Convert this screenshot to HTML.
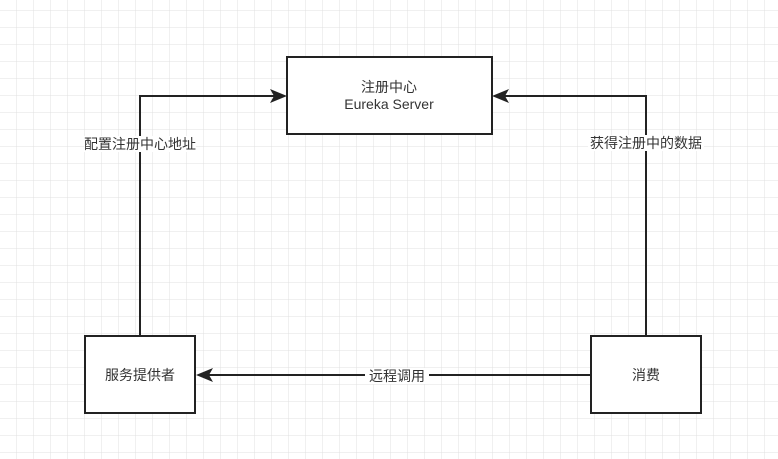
<!DOCTYPE html>
<html><head><meta charset="utf-8"><style>
body{margin:0;width:778px;height:459px;overflow:hidden;background:#fff;}
svg{display:block}
text{font-family:"Liberation Sans","Noto Sans CJK SC",sans-serif;font-size:14px;fill:#333;}
</style></head><body>
<svg width="778" height="459" xmlns="http://www.w3.org/2000/svg">
<defs>
<pattern id="g" width="17" height="17" patternUnits="userSpaceOnUse" x="0" y="11">
<path d="M17 0V17M0 17H17" fill="none" stroke="#e0e0e0" stroke-width="1"/>
</pattern>
</defs>
<rect width="778" height="459" fill="url(#g)"/>
<g stroke="#222" stroke-width="2" fill="none">
<rect x="287" y="57" width="205" height="77" fill="#fff"/>
<rect x="85" y="336" width="110" height="77" fill="#fff"/>
<rect x="591" y="336" width="110" height="77" fill="#fff"/>
<path d="M140 336V96H275"/>
<path d="M646 336V96H504"/>
<path d="M591 375H207"/>
</g>
<g fill="#222">
<path d="M287 96L270 89L274 96L270 103Z"/>
<path d="M492 96L509 89L505 96L509 103Z"/>
<path d="M196 375L213 368L209 375L213 382Z"/>
</g>
<rect x="84" y="136" width="112" height="16" fill="#fff"/>
<rect x="588" y="135" width="116" height="16" fill="#fff"/>
<rect x="365" y="368" width="64" height="16" fill="#fff"/>
<text x="389" y="92" text-anchor="middle">注册中心</text>
<text x="389" y="109" text-anchor="middle">Eureka Server</text>
<text x="140" y="380" text-anchor="middle">服务提供者</text>
<text x="646" y="380" text-anchor="middle">消费</text>
<text x="140" y="149" text-anchor="middle">配置注册中心地址</text>
<text x="646" y="148" text-anchor="middle">获得注册中的数据</text>
<text x="397" y="381" text-anchor="middle">远程调用</text>
</svg>
</body></html>
